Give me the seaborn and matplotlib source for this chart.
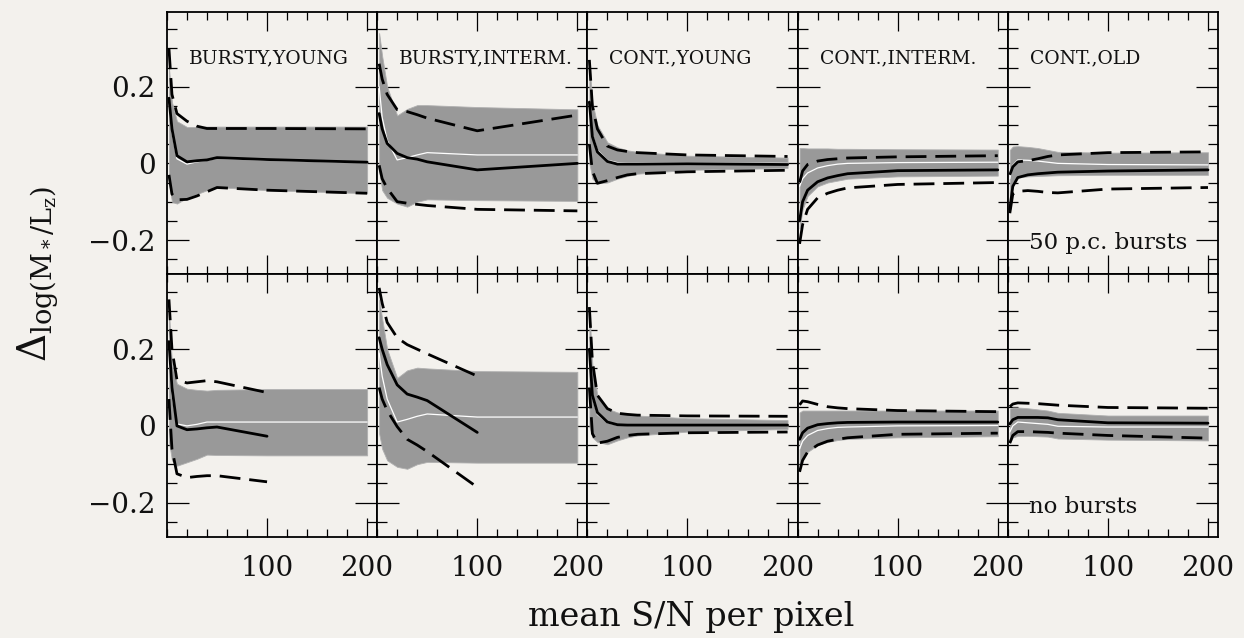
import numpy as np
import pandas as pd
import matplotlib
matplotlib.use("Agg")
import matplotlib.pyplot as plt
import seaborn as sns
from matplotlib.ticker import MultipleLocator, FixedLocator, FuncFormatter

nan = np.nan

# ---------------- data ----------------
SN = [2, 5, 10, 20, 30, 40, 50, 100, 200]
TITLES = ["BURSTY,YOUNG", "BURSTY,INTERM.", "CONT.,YOUNG", "CONT.,INTERM.", "CONT.,OLD"]
ROW_NOTES = ["50 p.c. bursts", "no bursts"]

# top row (50 p.c. bursts)
band_hi_top = [
    [0.25, 0.16, 0.11, 0.095, 0.095, 0.096, 0.096, 0.096, 0.096],
    [0.34, 0.28, 0.20, 0.125, 0.142, 0.152, 0.152, 0.147, 0.141],
    [0.26, 0.16, 0.10, 0.055, 0.042, 0.034, 0.030, 0.020, 0.015],
    [0.040, 0.040, 0.039, 0.039, 0.039, 0.038, 0.038, 0.037, 0.036],
    [0.035, 0.044, 0.045, 0.043, 0.040, 0.035, 0.030, 0.028, 0.029],
]
band_lo_top = [
    [-0.05, -0.10, -0.105, -0.09, -0.08, -0.07, -0.062, -0.07, -0.078],
    [-0.02, -0.07, -0.09, -0.105, -0.113, -0.10, -0.094, -0.096, -0.098],
    [0.0, -0.04, -0.052, -0.05, -0.04, -0.033, -0.027, -0.017, -0.012],
    [-0.17, -0.12, -0.085, -0.06, -0.05, -0.045, -0.04, -0.034, -0.032],
    [-0.11, -0.05, -0.037, -0.034, -0.033, -0.032, -0.031, -0.03, -0.03],
]
median_top = [
    [0.15, 0.08, 0.012, -0.002, 0.004, 0.008, 0.013, 0.008, 0.002],
    [0.20, 0.12, 0.06, 0.009, 0.015, 0.022, 0.028, 0.022, 0.022],
    [0.16, 0.075, 0.035, 0.008, 0.002, 0.001, 0.001, 0.001, 0.0],
    [-0.06, -0.04, -0.025, -0.012, -0.006, -0.002, 0.0, 0.002, 0.003],
    [-0.04, -0.005, 0.009, 0.008, 0.006, 0.003, 0.0, -0.003, -0.004],
]
mean_top = [
    [0.17, 0.09, 0.02, 0.004, 0.007, 0.009, 0.015, 0.010, 0.003],
    [0.13, 0.09, 0.052, 0.026, 0.015, 0.011, 0.004, -0.017, 0.0],
    [0.16, 0.07, 0.03, 0.005, -0.002, -0.002, -0.002, -0.001, -0.003],
    [-0.15, -0.10, -0.07, -0.048, -0.038, -0.032, -0.027, -0.019, -0.017],
    [-0.12, -0.06, -0.037, -0.03, -0.027, -0.025, -0.023, -0.02, -0.017],
]
dash_hi_top = [
    [0.30, 0.18, 0.13, 0.11, 0.097, 0.091, 0.091, 0.091, 0.09],
    [0.26, 0.22, 0.18, 0.14, 0.135, 0.127, 0.118, 0.085, 0.126],
    [0.27, 0.15, 0.09, 0.045, 0.035, 0.031, 0.028, 0.022, 0.018],
    [-0.05, -0.02, -0.003, 0.006, 0.010, 0.012, 0.014, 0.017, 0.020],
    [-0.03, -0.009, 0.004, 0.007, 0.012, 0.018, 0.022, 0.028, 0.030],
]
dash_lo_top = [
    [-0.03, -0.08, -0.095, -0.094, -0.085, -0.074, -0.063, -0.07, -0.078],
    [-0.005, -0.04, -0.065, -0.1, -0.104, -0.107, -0.11, -0.12, -0.124],
    [0.05, -0.02, -0.052, -0.045, -0.037, -0.03, -0.027, -0.022, -0.018],
    [-0.21, -0.16, -0.12, -0.09, -0.078, -0.07, -0.064, -0.055, -0.05],
    [-0.13, -0.08, -0.073, -0.071, -0.073, -0.076, -0.077, -0.067, -0.063],
]

# bottom row (no bursts)
band_hi_bot = [
    [0.30, 0.16, 0.11, 0.097, 0.094, 0.092, 0.094, 0.096, 0.096],
    [0.33, 0.28, 0.20, 0.125, 0.145, 0.152, 0.150, 0.143, 0.141],
    [0.30, 0.16, 0.08, 0.045, 0.035, 0.030, 0.027, 0.020, 0.015],
    [0.035, 0.040, 0.040, 0.040, 0.040, 0.040, 0.040, 0.040, 0.040],
    [0.045, 0.048, 0.048, 0.046, 0.043, 0.040, 0.034, 0.027, 0.027],
]
band_lo_bot = [
    [-0.04, -0.09, -0.104, -0.095, -0.086, -0.075, -0.076, -0.077, -0.077],
    [-0.02, -0.06, -0.09, -0.107, -0.112, -0.10, -0.094, -0.096, -0.096],
    [0.0, -0.03, -0.042, -0.048, -0.038, -0.03, -0.025, -0.015, -0.008],
    [-0.11, -0.085, -0.068, -0.05, -0.042, -0.037, -0.034, -0.03, -0.027],
    [-0.045, -0.03, -0.026, -0.026, -0.027, -0.028, -0.033, -0.036, -0.038],
]
median_bot = [
    [0.18, 0.08, 0.005, 0.0, 0.004, 0.01, 0.01, 0.01, 0.01],
    [0.19, 0.13, 0.07, 0.01, 0.017, 0.025, 0.031, 0.023, 0.023],
    [0.19, 0.075, 0.03, 0.008, 0.002, 0.001, 0.001, 0.001, 0.001],
    [-0.06, -0.04, -0.025, -0.012, -0.007, -0.004, -0.003, 0.0, 0.001],
    [-0.016, 0.0, 0.01, 0.008, 0.006, 0.004, -0.001, -0.003, -0.003],
]
mean_bot = [
    [0.22, 0.10, 0.0, -0.01, -0.008, -0.005, -0.003, -0.027, nan],
    [0.23, 0.20, 0.16, 0.107, 0.083, 0.075, 0.066, -0.017, nan],
    [0.20, 0.08, 0.035, 0.01, 0.003, 0.002, 0.002, 0.002, 0.002],
    [-0.035, -0.018, -0.006, 0.003, 0.006, 0.008, 0.009, 0.01, 0.01],
    [0.005, 0.016, 0.022, 0.022, 0.022, 0.021, 0.016, 0.008, 0.007],
]
dash_hi_bot = [
    [0.33, 0.20, 0.12, 0.112, 0.115, 0.118, 0.115, 0.087, nan],
    [0.36, 0.32, 0.27, 0.23, 0.212, 0.20, 0.188, 0.13, nan],
    [0.31, 0.17, 0.08, 0.045, 0.033, 0.03, 0.028, 0.026, 0.025],
    [0.055, 0.065, 0.063, 0.056, 0.05, 0.047, 0.045, 0.04, 0.037],
    [0.05, 0.057, 0.06, 0.059, 0.058, 0.056, 0.054, 0.048, 0.046],
]
dash_lo_bot = [
    [0.07, -0.06, -0.125, -0.135, -0.132, -0.13, -0.13, -0.146, nan],
    [0.10, 0.07, 0.04, -0.002, -0.035, -0.05, -0.067, -0.16, nan],
    [0.10, -0.02, -0.045, -0.04, -0.03, -0.025, -0.022, -0.018, -0.016],
    [-0.12, -0.09, -0.068, -0.05, -0.04, -0.035, -0.031, -0.022, -0.019],
    [-0.045, -0.025, -0.015, -0.015, -0.016, -0.017, -0.019, -0.025, -0.032],
]

X_MAJOR = [100, 200]
Y_MAJOR_STEP = 0.2

# ---------------- style ----------------
BG = "#f3f1ed"
BAND = "#999999"
INK = "#111111"

sns.set_theme(style="ticks")
plt.rcParams["font.family"] = ["DejaVu Serif"]
plt.rcParams["mathtext.fontset"] = "dejavuserif"

fig, axes = plt.subplots(2, 5, figsize=(12.44, 6.38), dpi=100, sharex=True, sharey=True)
fig.patch.set_facecolor(BG)
fig.subplots_adjust(left=0.1342, right=0.9791, top=0.9812, bottom=0.1583,
                    wspace=0, hspace=0)

rows = [
    (band_lo_top, band_hi_top, median_top, mean_top, dash_lo_top, dash_hi_top),
    (band_lo_bot, band_hi_bot, median_bot, mean_bot, dash_lo_bot, dash_hi_bot),
]

def yfmt(v, _):
    if abs(v) < 1e-9:
        return "0"
    return f"{v:.1f}".replace("-", "\u2212")

dash_style = (0, (7.5, 3.2))

for r, (blo, bhi, med, mea, dlo, dhi) in enumerate(rows):
    for c in range(5):
        ax = axes[r, c]
        ax.set_facecolor(BG)
        df = pd.DataFrame({
            "sn": SN, "blo": blo[c], "bhi": bhi[c], "med": med[c],
            "mean": mea[c], "dlo": dlo[c], "dhi": dhi[c],
        })
        ax.fill_between(df["sn"], df["blo"], df["bhi"], color=BAND, lw=0.6,
                        edgecolor="#b0b0b0", zorder=1)
        sns.lineplot(data=df, x="sn", y="med", ax=ax, color="white", lw=0.9,
                     errorbar=None, legend=False, zorder=2)
        for col in ("dhi", "dlo"):
            sub = df[["sn", col]].dropna()
            sns.lineplot(data=sub, x="sn", y=col, ax=ax, color="black", lw=2.0,
                         linestyle=dash_style, errorbar=None, legend=False, zorder=3)
        sub = df[["sn", "mean"]].dropna()
        sns.lineplot(data=sub, x="sn", y="mean", ax=ax, color="black", lw=2.0,
                     errorbar=None, legend=False, zorder=4)

        ax.set_xlim(0, 210)
        ax.set_ylim(-0.29, 0.395)
        ax.set_xlabel("")
        ax.set_ylabel("")
        ax.xaxis.set_major_locator(FixedLocator(X_MAJOR))
        ax.xaxis.set_minor_locator(MultipleLocator(20))
        ax.yaxis.set_major_locator(MultipleLocator(Y_MAJOR_STEP))
        ax.yaxis.set_minor_locator(MultipleLocator(0.05))
        ax.yaxis.set_major_formatter(FuncFormatter(yfmt))
        ax.tick_params(which="both", direction="in", top=True, right=True,
                       color="black", width=0.9, labelsize=20, labelcolor=INK)
        ax.tick_params(axis="x", which="major", length=14, pad=13)
        ax.tick_params(axis="x", which="minor", length=5.5)
        ax.tick_params(axis="y", which="major", length=16, pad=8)
        ax.tick_params(axis="y", which="minor", length=7)
        for s in ax.spines.values():
            s.set_color("black")
            s.set_linewidth(1.3)
        if c != 0:
            ax.tick_params(axis="y", labelleft=False)
        if r == 0:
            ax.tick_params(axis="x", labelbottom=False)
            ax.text(0.105, 0.825, TITLES[c], transform=ax.transAxes,
                    ha="left", va="center", fontsize=13.5, color=INK)
        if c == 4:
            ax.text(0.10, 0.12 if r == 0 else 0.115, ROW_NOTES[r], transform=ax.transAxes,
                    ha="left", va="center", fontsize=16.5, color=INK)

fig.text(0.556, 0.033, "mean S/N per pixel", ha="center", va="center",
         fontsize=24, color=INK)
fig.text(0.03, 0.57, r"$\Delta_{\mathrm{log}(\mathrm{M}_*/\mathrm{L}_\mathrm{z})}$",
         rotation=90, ha="center", va="center", fontsize=28, color=INK)

fig.savefig("out.png", dpi=100, facecolor=BG)
